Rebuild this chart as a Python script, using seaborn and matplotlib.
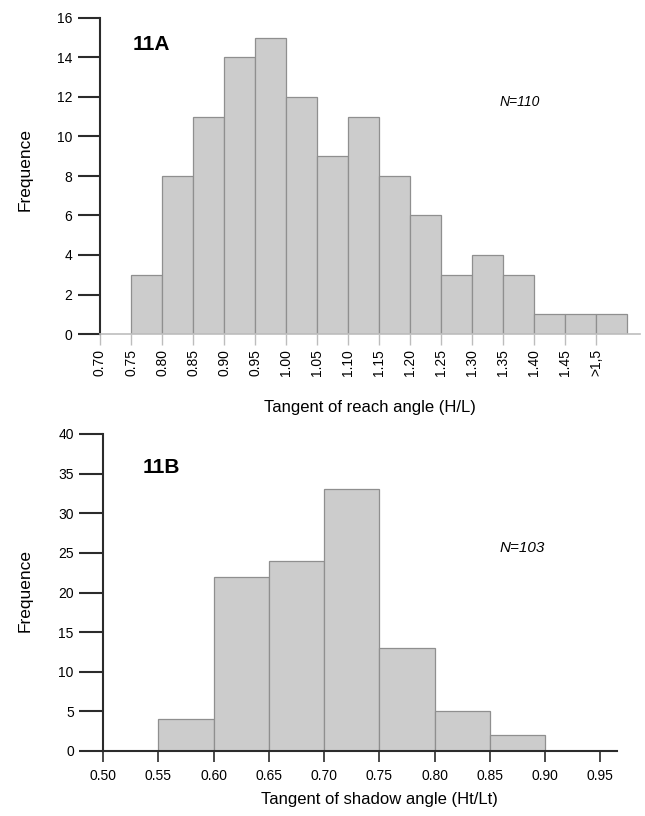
import matplotlib
matplotlib.use("Agg")
import matplotlib.pyplot as plt
import seaborn as sns
import numpy as np
import pandas as pd

# ---- data ----
reach_bin_left = [0.75, 0.80, 0.85, 0.90, 0.95, 1.00, 1.05, 1.10, 1.15, 1.20,
                  1.25, 1.30, 1.35, 1.40, 1.45, 1.50]
reach_counts = [3, 8, 11, 14, 15, 12, 9, 11, 8, 6, 3, 4, 3, 1, 1, 1]
reach_ticks = [0.70, 0.75, 0.80, 0.85, 0.90, 0.95, 1.00, 1.05, 1.10, 1.15,
               1.20, 1.25, 1.30, 1.35, 1.40, 1.45, 1.50]
reach_tick_labels = ["0.70", "0.75", "0.80", "0.85", "0.90", "0.95", "1.00",
                     "1.05", "1.10", "1.15", "1.20", "1.25", "1.30", "1.35",
                     "1.40", "1.45", ">1,5"]

shadow_bin_left = [0.55, 0.60, 0.65, 0.70, 0.75, 0.80, 0.85]
shadow_counts = [4, 22, 24, 33, 13, 5, 2]
shadow_ticks = [0.50, 0.55, 0.60, 0.65, 0.70, 0.75, 0.80, 0.85, 0.90, 0.95]
shadow_tick_labels = ["0.50", "0.55", "0.60", "0.65", "0.70", "0.75", "0.80",
                      "0.85", "0.90", "0.95"]

bin_width = 0.05

sns.set_style("white")
plt.rcParams['font.family'] = ['Liberation Sans', 'DejaVu Sans']
plt.rcParams['text.color'] = 'black'
plt.rcParams['axes.labelcolor'] = 'black'
plt.rcParams['xtick.labelcolor'] = 'black'
plt.rcParams['ytick.labelcolor'] = 'black'

fig = plt.figure(figsize=(6.45, 8.16), dpi=100)
W, H = 645, 816

def px_axes(left, top, right, bottom):
    return fig.add_axes([left / W, 1 - bottom / H, (right - left) / W, (bottom - top) / H])

bar_face = "#cccccc"
bar_edge = "#8f8f8f"
dark = "#2b2b2b"

def draw_hist(ax, lefts, counts):
    centers = [round(l + bin_width / 2, 4) for l in lefts]
    edges = [round(l, 4) for l in lefts] + [round(lefts[-1] + bin_width, 4)]
    df = pd.DataFrame({"x": centers, "n": counts})
    sns.histplot(data=df, x="x", weights="n", bins=edges, ax=ax,
                 color=bar_face, edgecolor=bar_edge, linewidth=0.9, alpha=1)

# ---- top panel ----
ax1 = px_axes(100, 18, 640, 334)
draw_hist(ax1, reach_bin_left, reach_counts)
ax1.set_xlim(0.70, 1.5705)
ax1.set_ylim(0, 16)
ax1.set_yticks(range(0, 17, 2))
ax1.set_xticks(reach_ticks)
ax1.set_xticklabels(reach_tick_labels, rotation=90)
for s in ["top", "right"]:
    ax1.spines[s].set_visible(False)
ax1.spines["left"].set_color(dark)
ax1.spines["left"].set_linewidth(1.5)
ax1.spines["bottom"].set_color("#bdbdbd")
ax1.spines["bottom"].set_linewidth(1.2)
ax1.tick_params(axis="y", direction="out", length=16, width=1.5, color=dark,
                labelsize=10, pad=4, left=True)
ax1.tick_params(axis="x", direction="out", length=8, width=1.0, color="#bdbdbd",
                labelsize=10, pad=3, bottom=True)
ax1.set_ylabel("Frequence", fontsize=12.5)
ax1.yaxis.set_label_coords(-0.124, 0.519)
ax1.set_xlabel("Tangent of reach angle (H/L)", fontsize=12, labelpad=17)
ax1.text(133 / W, 1 - 45 / H, "11A", transform=fig.transFigure, fontsize=15,
         fontweight="bold", va="center", ha="left")
ax1.text(500 / W, 1 - 102 / H, "N=110", transform=fig.transFigure, fontsize=10,
         style="italic", va="center", ha="left")

# ---- bottom panel ----
ax2 = px_axes(103, 434, 617, 751)
draw_hist(ax2, shadow_bin_left, shadow_counts)
ax2.set_xlim(0.50, 0.965)
ax2.set_ylim(0, 40)
ax2.set_yticks(range(0, 41, 5))
ax2.set_xticks(shadow_ticks)
ax2.set_xticklabels(shadow_tick_labels)
for s in ["top", "right"]:
    ax2.spines[s].set_visible(False)
for s in ["left", "bottom"]:
    ax2.spines[s].set_color(dark)
    ax2.spines[s].set_linewidth(1.5)
ax2.tick_params(axis="y", direction="out", length=17, width=1.5, color=dark,
                labelsize=10, pad=4, left=True)
ax2.tick_params(axis="x", direction="out", length=8, width=1.2, color=dark,
                labelsize=10, pad=5, bottom=True)
ax2.set_ylabel("Frequence", fontsize=12.5)
ax2.yaxis.set_label_coords(-0.136, 0.505)
ax2.set_xlabel("Tangent of shadow angle (Ht/Lt)", fontsize=12, labelpad=6)
ax2.xaxis.set_label_coords(0.537, -0.129)
ax2.text(143 / W, 1 - 468 / H, "11B", transform=fig.transFigure, fontsize=15,
         fontweight="bold", va="center", ha="left")
ax2.text(500 / W, 1 - 548 / H, "N=103", transform=fig.transFigure, fontsize=11,
         style="italic", va="center", ha="left")

fig.savefig("out.png", dpi=100)
